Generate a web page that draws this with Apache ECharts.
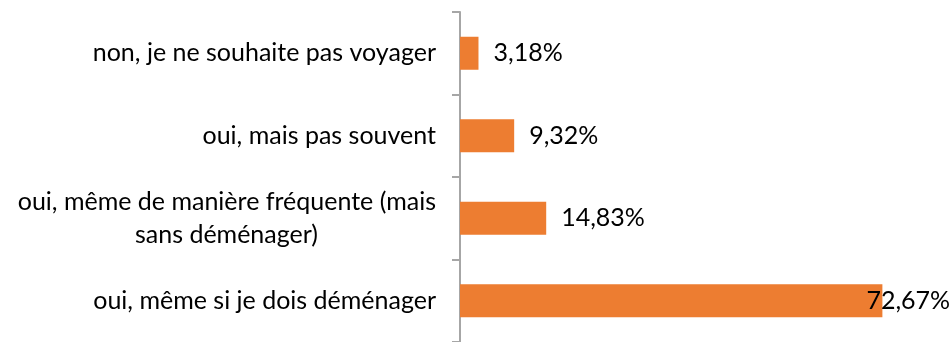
<!DOCTYPE html>
<html>
<head>
<meta charset="utf-8">
<script src="https://cdn.jsdelivr.net/npm/echarts@6/dist/echarts.min.js"></script>
<style>
  html, body { margin: 0; padding: 0; background: #fff; }
  #chart { width: 952px; height: 342px; }
</style>
</head>
<body>
<div id="chart"></div>
<script>
// Answers, listed from the bottom bar to the top one
const categories = [
  'oui, même si je dois déménager',
  'oui, même de manière fréquente (mais\nsans déménager)',
  'oui, mais pas souvent',
  'non, je ne souhaite pas voyager'
];
// Share of respondents, in percent
const shares = [72.67, 14.83, 9.32, 3.18];

const FONT = 'Lato';
const FONT_SIZE = 25;

const measureCtx = document.createElement('canvas').getContext('2d');
const fmtPct = v => v.toFixed(2).replace('.', ',') + '%';

// Rich styles for wrapped answers: each short line gets a trailing spacer
// so that it sits centred under the longest one.
const rich = {};
function categoryLabel(name) {
  if (name.indexOf('\n') < 0) return name;
  measureCtx.font = FONT_SIZE + 'px ' + FONT;
  const lines = name.split('\n');
  const widths = lines.map(l => measureCtx.measureText(l).width);
  const maxW = Math.max.apply(null, widths);
  return lines.map((l, i) => {
    const pad = Math.round((maxW - widths[i]) / 2);
    if (pad < 1) return '{t|' + l + '}';
    const key = 'sp' + pad;
    rich[key] = { width: pad, align: 'right' };
    return '{t|' + l + '}{' + key + '| }';
  }).join('\n');
}

const chart = echarts.init(document.getElementById('chart'), null, { renderer: 'canvas' });

function draw() {
  categories.forEach(categoryLabel);
  rich.t = { align: 'right', fontFamily: FONT, fontSize: FONT_SIZE, lineHeight: 33, color: '#000' };
  chart.setOption({
    animation: false,
    backgroundColor: '#ffffff',
    grid: { left: 460, top: 12, width: 465, height: 334, containLabel: false },
    xAxis: {
      type: 'value',
      min: 0,
      max: 80,
      show: false
    },
    yAxis: {
      type: 'category',
      data: categories,
      axisLine: { lineStyle: { color: '#a6a6a6', width: 2 } },
      axisTick: { show: true, length: 8, lineStyle: { color: '#a6a6a6', width: 2 } },
      splitLine: { show: false },
      axisLabel: {
        interval: 0,
        margin: 24,
        color: '#000',
        fontFamily: FONT,
        fontSize: FONT_SIZE,
        lineHeight: 33,
        formatter: categoryLabel,
        rich: rich
      }
    },
    series: [{
      type: 'bar',
      barWidth: 33,
      itemStyle: { color: '#ed7d31' },
      data: shares.map((v, i) => i === 0
        ? { value: v, label: { offset: [-31, 0] } }
        : v),
      label: {
        show: true,
        position: 'right',
        distance: 15,
        color: '#000',
        fontFamily: FONT,
        fontSize: FONT_SIZE,
        formatter: p => fmtPct(p.value)
      }
    }]
  });
}

if (document.fonts && document.fonts.load) {
  document.fonts.load(FONT_SIZE + 'px ' + FONT).then(draw, draw);
} else {
  draw();
}
</script>
</body>
</html>
